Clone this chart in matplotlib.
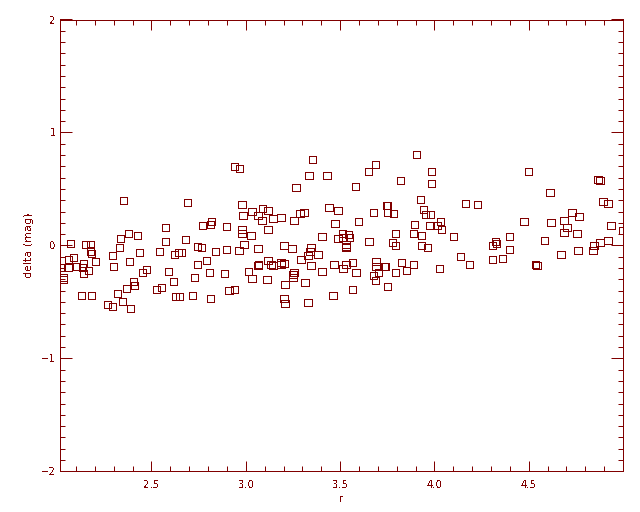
import matplotlib
matplotlib.use("Agg")
import matplotlib.pyplot as plt
from matplotlib.ticker import MultipleLocator, FixedLocator

plt.rcParams["lines.antialiased"] = False
plt.rcParams["patch.antialiased"] = False
plt.rcParams["text.antialiased"] = False

r_vals = [
    # 2.0 - 2.5
    2.351, 2.378, 2.426, 2.335, 2.069, 2.149, 2.176, 2.330, 2.176, 2.181,
    2.293, 2.436, 2.085, 2.059, 2.202, 2.383, 2.138, 2.101, 2.133, 2.298,
    2.017, 2.059, 2.165, 2.138, 2.473, 2.452, 2.032, 2.032, 2.404, 2.410,
    2.367, 2.319, 2.128, 2.181, 2.346, 2.266, 2.293, 2.388,
    # 2.5 - 3.0
    2.941, 2.968, 2.691, 2.979, 2.986, 2.574, 2.771, 2.819, 2.814, 2.899,
    2.979, 2.979, 2.574, 2.681, 2.745, 2.766, 2.991, 2.543, 2.622, 2.644,
    2.660, 2.840, 2.899, 2.963, 2.793, 2.745, 2.590, 2.809, 2.888, 2.729,
    2.617, 2.527, 2.553, 2.910, 2.941, 2.628, 2.649, 2.718, 2.814,
    # 3.0 - 3.5
    3.355, 3.335, 3.431, 3.266, 3.032, 3.090, 3.117, 3.064, 3.085, 3.144,
    3.186, 3.287, 3.309, 3.255, 3.441, 3.489, 3.473, 3.117, 3.027, 3.404,
    3.489, 3.064, 3.202, 3.245, 3.346, 3.340, 3.330, 3.383, 3.293, 3.117,
    3.133, 3.144, 3.064, 3.069, 3.186, 3.186, 3.202, 3.346, 3.468, 3.016,
    3.032, 3.112, 3.255, 3.250, 3.250, 3.404, 3.207, 3.314, 3.202, 3.207,
    3.330, 3.463,
    # 3.5 - 4.0
    3.904, 3.686, 3.649, 3.984, 3.819, 3.984, 3.580, 3.926, 3.745, 3.750,
    3.676, 3.750, 3.782, 3.941, 3.952, 3.979, 3.596, 3.894, 3.973, 3.793,
    3.888, 3.931, 3.511, 3.543, 3.516, 3.548, 3.532, 3.532, 3.532, 3.654,
    3.777, 3.793, 3.931, 3.963, 3.516, 3.532, 3.564, 3.585, 3.691, 3.691,
    3.702, 3.676, 3.686, 3.734, 3.739, 3.793, 3.824, 3.851, 3.888, 3.750,
    3.564,
    # 4.0 - 4.5
    4.165, 4.229, 4.032, 4.016, 4.037, 4.101, 4.475, 4.399, 4.324, 4.330,
    4.309, 4.399, 4.138, 4.186, 4.309, 4.362, 4.027,
    # 4.5 - 5.0
    4.500, 4.867, 4.878, 4.612, 4.894, 4.920, 4.729, 4.766, 4.617, 4.686,
    4.702, 4.686, 4.755, 4.936, 4.998, 4.585, 4.878, 4.920, 4.846, 4.840,
    4.761, 4.670, 4.537, 4.543,
]

delta_vals = [
    # 2.0 - 2.5
    0.396, 0.104, 0.086, 0.059, 0.015, 0.006, 0.006, -0.020, -0.050, -0.074,
    -0.091, -0.065, -0.109, -0.127, -0.145, -0.145, -0.159, -0.189, -0.198, -0.189,
    -0.198, -0.198, -0.224, -0.251, -0.215, -0.242, -0.286, -0.304, -0.321, -0.357,
    -0.383, -0.427, -0.445, -0.445, -0.498, -0.525, -0.542, -0.560,
    # 2.5 - 3.0
    0.696, 0.679, 0.378, 0.360, 0.263, 0.157, 0.174, 0.210, 0.183, 0.165,
    0.139, 0.104, 0.033, 0.050, -0.012, -0.020, 0.006, -0.056, -0.082, -0.065,
    -0.065, -0.056, -0.038, -0.047, -0.135, -0.171, -0.233, -0.242, -0.251, -0.286,
    -0.321, -0.392, -0.374, -0.401, -0.392, -0.454, -0.454, -0.445, -0.472,
    # 3.0 - 3.5
    0.758, 0.617, 0.617, 0.511, 0.298, 0.325, 0.307, 0.263, 0.219, 0.236,
    0.245, 0.281, 0.289, 0.219, 0.334, 0.307, 0.192, 0.139, 0.086, 0.077,
    0.059, -0.029, -0.003, -0.029, -0.020, -0.056, -0.091, -0.082, -0.127, -0.135,
    -0.171, -0.180, -0.180, -0.171, -0.153, -0.171, -0.162, -0.180, -0.171, -0.233,
    -0.295, -0.304, -0.242, -0.259, -0.286, -0.233, -0.348, -0.330, -0.472, -0.516,
    -0.507, -0.445,
    # 3.5 - 4.0
    0.803, 0.714, 0.652, 0.652, 0.573, 0.546, 0.519, 0.404, 0.351, 0.351,
    0.289, 0.289, 0.281, 0.316, 0.272, 0.272, 0.210, 0.183, 0.174, 0.104,
    0.104, 0.086, 0.104, 0.095, 0.068, 0.068, 0.006, -0.012, -0.020, 0.033,
    0.024, -0.003, -0.003, -0.020, -0.206, -0.171, -0.153, -0.242, -0.145, -0.189,
    -0.242, -0.268, -0.312, -0.189, -0.189, -0.242, -0.153, -0.224, -0.171, -0.365,
    -0.392,
    # 4.0 - 4.5
    0.369, 0.360, 0.210, 0.174, 0.139, 0.077, 0.210, 0.077, 0.033, 0.015,
    -0.003, -0.038, -0.100, -0.171, -0.127, -0.118, -0.206,
    # 4.5 - 5.0
    0.652, 0.581, 0.573, 0.466, 0.387, 0.369, 0.289, 0.254, 0.201, 0.219,
    0.157, 0.112, 0.104, 0.174, 0.130, 0.042, 0.024, 0.042, -0.003, -0.047,
    -0.047, -0.082, -0.171, -0.180,
]

x_major = [2.5, 3.0, 3.5, 4.0, 4.5]
x_labels = ["2.5", "3.0", "3.5", "4.0", "4.5"]
y_major = [-2, -1, 0, 1, 2]
y_labels = ["\u22122", "\u22121", "0", "1", "2"]

col = "#800000"
lw = 0.72  # one pixel at 100 dpi

fig = plt.figure(figsize=(6.4, 5.12), dpi=100)
ax = fig.add_axes([60/640, 1 - 471.3/512, 562.7/640, 451.8/512])

ax.scatter(r_vals, delta_vals, marker="s", s=28, facecolors="none",
           edgecolors=col, linewidths=lw, antialiased=False)

ax.set_xlim(2.015, 4.998)
ax.set_ylim(-2, 2)

ax.xaxis.set_major_locator(FixedLocator(x_major))
ax.set_xticklabels(x_labels)
ax.xaxis.set_minor_locator(MultipleLocator(0.1))
ax.yaxis.set_major_locator(FixedLocator(y_major))
ax.set_yticklabels(y_labels)
ax.yaxis.set_minor_locator(MultipleLocator(0.1))

for s in ax.spines.values():
    s.set_color(col)
    s.set_linewidth(lw)
    s.set_antialiased(False)

ax.tick_params(axis="both", which="both", direction="in", colors=col,
               top=True, right=True, labelsize=7.2, width=lw)
ax.tick_params(axis="x", which="major", length=7.2, pad=6)
ax.tick_params(axis="x", which="minor", length=3.6)
ax.tick_params(axis="y", which="major", length=8.4, pad=3)
ax.tick_params(axis="y", which="minor", length=3.8)

ax.set_xlabel("r", color=col, fontsize=7.5, labelpad=3)
ax.set_ylabel("delta (mag)", color=col, fontsize=8, labelpad=5)

fig.savefig("out.png", dpi=100, facecolor="white")
